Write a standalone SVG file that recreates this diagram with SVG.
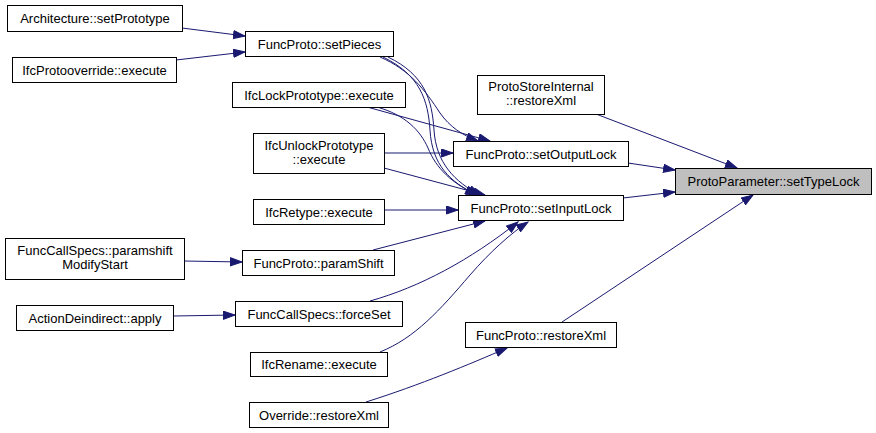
<svg xmlns="http://www.w3.org/2000/svg" width="876" height="433" viewBox="0 0 876 433">
<style>
.n rect{fill:#fff;stroke:#000;stroke-width:1}
.n.hl rect{fill:#bfbfbf}
.n text{font-family:"Liberation Sans",Arial,sans-serif;font-size:13px;fill:#000;text-anchor:middle}
.e path{fill:none;stroke:#191970;stroke-width:1;marker-end:url(#ah)}
</style>
<defs>
<marker id="ah" markerUnits="userSpaceOnUse" markerWidth="14" markerHeight="11" refX="12" refY="4.5" orient="auto">
<path d="M0.5,0.5 L12,4.5 L0.5,8.5 z" fill="#191970" stroke="#191970" stroke-width="1"/>
</marker>
</defs>
<rect width="876" height="433" fill="#fff"/>
<g id="edges" class="e">
<path d="M182,28 L245,36"/>
<path d="M176,60 L245,52"/>
<path d="M380,57 C410,70 425,90 440,113 C450,127 462,135 478,141"/>
<path d="M383,57 C420,75 428,100 430,130 C432,165 450,182 477,195"/>
<path d="M388,57 C425,75 432,100 434,130 C436,163 455,182 480,195"/>
<path d="M367,107 L490,141"/>
<path d="M377,107 C405,115 420,130 428,148 C436,168 452,184 478,195"/>
<path d="M384,153 L453,153"/>
<path d="M384,168 L485,195"/>
<path d="M384,210 L458,210"/>
<path d="M373,250 L485,221"/>
<path d="M370,301 C420,287 470,260 518,222"/>
<path d="M380,352 C415,338 440,310 470,275 C490,252 510,234 528,222"/>
<path d="M184,261 L242,262"/>
<path d="M173,316 L235,315"/>
<path d="M366,402 C420,385 470,364 507,348"/>
<path d="M596,114 L737,168"/>
<path d="M628,163 L675,170"/>
<path d="M623,198 L675,192"/>
<path d="M562,322 L753,195"/>
</g>
<g id="n_arch" class="n"><rect x="7.5" y="5.5" width="175" height="26"/><text x="95" y="23">Architecture::setPrototype</text></g>
<g id="n_protooverride" class="n"><rect x="12.5" y="57.5" width="164" height="25"/><text x="94.5" y="74.5">IfcProtooverride::execute</text></g>
<g id="n_setpieces" class="n"><rect x="245.5" y="31.5" width="148" height="25"/><text x="319.5" y="48.5">FuncProto::setPieces</text></g>
<g id="n_lockproto" class="n"><rect x="232.5" y="82.5" width="173" height="25"/><text x="319" y="99.5">IfcLockPrototype::execute</text></g>
<g id="n_unlockproto" class="n"><rect x="253.5" y="133.5" width="131" height="40"/><text x="319" y="149.5">IfcUnlockPrototype</text><text x="319" y="164">::execute</text></g>
<g id="n_retype" class="n"><rect x="253.5" y="199.5" width="131" height="25"/><text x="319" y="216.5">IfcRetype::execute</text></g>
<g id="n_paramshiftmod" class="n"><rect x="5.5" y="238.5" width="179" height="41"/><text x="95" y="255">FuncCallSpecs::paramshift</text><text x="95" y="269">ModifyStart</text></g>
<g id="n_paramshift" class="n"><rect x="242.5" y="250.5" width="152" height="25"/><text x="318.5" y="267.5">FuncProto::paramShift</text></g>
<g id="n_deindirect" class="n"><rect x="16.5" y="305.5" width="157" height="25"/><text x="95" y="322.5">ActionDeindirect::apply</text></g>
<g id="n_forceset" class="n"><rect x="235.5" y="301.5" width="167" height="25"/><text x="319" y="318.5">FuncCallSpecs::forceSet</text></g>
<g id="n_rename" class="n"><rect x="250.5" y="352.5" width="137" height="24"/><text x="319" y="369">IfcRename::execute</text></g>
<g id="n_override" class="n"><rect x="249.5" y="402.5" width="139" height="25"/><text x="319" y="419.5">Override::restoreXml</text></g>
<g id="n_protostore" class="n"><rect x="477.5" y="75.5" width="127" height="39"/><text x="541" y="91">ProtoStoreInternal</text><text x="541" y="105">::restoreXml</text></g>
<g id="n_setoutputlock" class="n"><rect x="453.5" y="141.5" width="175" height="25"/><text x="541" y="158.5">FuncProto::setOutputLock</text></g>
<g id="n_settypelock" class="n hl"><rect x="675.5" y="168.5" width="196" height="26"/><text x="773.5" y="186">ProtoParameter::setTypeLock</text></g>
<g id="n_setinputlock" class="n"><rect x="458.5" y="195.5" width="165" height="25"/><text x="541" y="212.5">FuncProto::setInputLock</text></g>
<g id="n_restorexml" class="n"><rect x="465.5" y="322.5" width="151" height="25"/><text x="541" y="339.5">FuncProto::restoreXml</text></g>
</svg>
